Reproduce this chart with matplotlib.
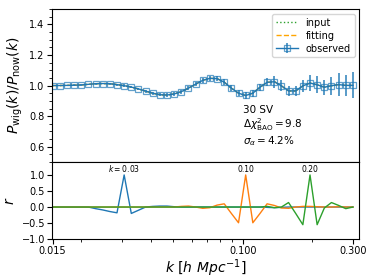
import matplotlib
matplotlib.use("Agg")
import matplotlib.pyplot as plt
from matplotlib.ticker import FixedLocator, FormatStrFormatter, LogLocator, NullFormatter, MultipleLocator

# k bins (h/Mpc)
k = [0.01500, 0.01611, 0.01730, 0.01858, 0.01995, 0.02143, 0.02301, 0.02471,
     0.02654, 0.02850, 0.03061, 0.03287, 0.03530, 0.03791, 0.04071, 0.04372,
     0.04695, 0.05042, 0.05415, 0.05815, 0.06245, 0.06707, 0.07203, 0.07735,
     0.08307, 0.08921, 0.09580, 0.1029, 0.1105, 0.1187, 0.1274, 0.1369,
     0.1470, 0.1578, 0.1695, 0.1820, 0.1955, 0.2099, 0.2255, 0.2421,
     0.2600, 0.2793, 0.3000]

ratio_obs = [1.000, 1.000, 1.001, 1.002, 1.004, 1.008, 1.012, 1.013, 1.012, 1.006,
             0.999, 0.990, 0.978, 0.964, 0.950, 0.940, 0.938, 0.945, 0.960, 0.983,
             1.009, 1.034, 1.047, 1.045, 1.022, 0.983, 0.950, 0.935, 0.950, 0.989,
             1.021, 1.025, 0.998, 0.965, 0.965, 0.998, 1.016, 1.005, 0.989, 0.999,
             1.006, 1.001, 1.001]

ratio_err = [0.004, 0.004, 0.004, 0.005, 0.005, 0.005, 0.006, 0.006, 0.007, 0.007,
             0.008, 0.008, 0.009, 0.010, 0.010, 0.011, 0.012, 0.012, 0.013, 0.014,
             0.015, 0.016, 0.017, 0.018, 0.019, 0.020, 0.021, 0.022, 0.023, 0.022,
             0.027, 0.040, 0.035, 0.033, 0.035, 0.040, 0.050, 0.055, 0.050, 0.060,
             0.075, 0.070, 0.085]

ratio_input = ratio_obs
ratio_fit = ratio_obs

r_k003 = [0.0, 0.0, 0.0, 0.0, 0.0, 0.0, -0.05, -0.09, -0.14, -0.18,
          1.0, -0.20, -0.10, 0.0, 0.02, 0.03, 0.03, 0.01, 0.0, 0.0,
          0.0, 0.0, 0.0, 0.0, 0.0, 0.0, 0.0, 0.0, 0.0, 0.0,
          -0.01, -0.02, -0.01, 0.0, 0.0, 0.0, 0.0, 0.0, 0.0, 0.0,
          0.0, 0.0, 0.0]
r_k010 = [0.0, 0.0, 0.0, 0.0, 0.0, 0.0, 0.0, 0.0, 0.0, 0.0,
          0.0, 0.0, 0.0, 0.0, 0.0, 0.0, 0.0, 0.0, 0.02, 0.03,
          0.0, -0.04, -0.02, 0.06, 0.10, -0.20, -0.49, 1.0, -0.49, -0.20,
          0.10, 0.05, -0.03, -0.04, 0.0, 0.02, 0.02, 0.01, 0.0, 0.0,
          0.01, 0.0, 0.0]
r_k020 = [0.0, 0.0, 0.0, 0.0, 0.0, 0.0, 0.0, 0.0, 0.0, 0.0,
          0.0, 0.0, 0.0, 0.0, 0.0, 0.0, 0.0, 0.0, 0.0, 0.0,
          0.0, 0.0, 0.0, 0.0, 0.0, 0.0, 0.0, 0.0, 0.0, 0.0,
          0.02, -0.02, 0.0, 0.14, -0.20, -0.55, 1.0, -0.55, -0.03, 0.14,
          0.05, -0.05, 0.0]

peak_labels = ["$k=0.03$", "0.10", "0.20"]
peak_k = [0.03061, 0.1029, 0.1955]
x_ticks = [0.015, 0.1, 0.3]

fig = plt.figure(figsize=(3.74, 2.80), dpi=100)
ax1 = fig.add_axes([0.139, 0.421, 0.822, 0.547])
ax2 = fig.add_axes([0.139, 0.146, 0.822, 0.275], sharex=ax1)

ax1.plot(k, ratio_input, ':', color='C2', lw=1.0, label='input')
ax1.plot(k, ratio_fit, '--', color='orange', lw=1.0, label='fitting')
ax1.errorbar(k, ratio_obs, yerr=ratio_err, fmt='-s', color='C0', ms=3.8,
             mfc='none', mec=(0.12, 0.47, 0.71, 0.7), mew=0.9, lw=1.0, elinewidth=1.3,
             ecolor=(0.12, 0.47, 0.71, 0.8), label='observed')
ax1.set_xscale('log')
ax1.set_ylim(0.5, 1.5)
ax1.yaxis.set_major_locator(MultipleLocator(0.2))
ax1.yaxis.set_minor_locator(MultipleLocator(0.05))
ax1.set_ylabel(r'$P_{\rm wig}(k)/P_{\rm now}(k)$', fontsize=10, labelpad=3)
ax1.tick_params(labelsize=7, labelbottom=False, pad=2)
ax1.tick_params(which='minor', length=2)
ax1.legend(loc='upper right', fontsize=7, handlelength=2.2, borderpad=0.4,
           labelspacing=0.3)
ax1.text(0.1, 0.595, "30 SV\n" + r"$\Delta\chi^2_{\rm BAO}=9.8$" + "\n" + r"$\sigma_\alpha=4.2\%$",
         fontsize=7.5, ha='left', va='bottom', linespacing=1.1)

ax2.plot(k, r_k003, '-', color='C0', lw=1.0)
ax2.plot(k, r_k010, '-', color='C1', lw=1.0)
ax2.plot(k, r_k020, '-', color='C2', lw=1.0)
for lab, kp in zip(peak_labels, peak_k):
    ax2.text(kp, 1.03, lab, fontsize=5.5, ha='center', va='bottom')
ax2.set_ylim(-1.0, 1.4)
ax2.set_xlim(0.0149, 0.32)
ax2.yaxis.set_major_locator(MultipleLocator(0.5))
ax2.xaxis.set_major_locator(FixedLocator(x_ticks))
ax2.xaxis.set_major_formatter(FormatStrFormatter('%.3f'))
ax2.xaxis.set_minor_locator(LogLocator(base=10, subs=range(2, 10)))
ax2.xaxis.set_minor_formatter(NullFormatter())
ax2.tick_params(labelsize=7, pad=1.5)
ax2.tick_params(which='minor', length=2)
ax2.set_ylabel('$r$', fontsize=10, labelpad=3)
ax2.set_xlabel(r'$k\ [h\ Mpc^{-1}]$', fontsize=10, labelpad=1)

fig.savefig('out.png', dpi=100)
